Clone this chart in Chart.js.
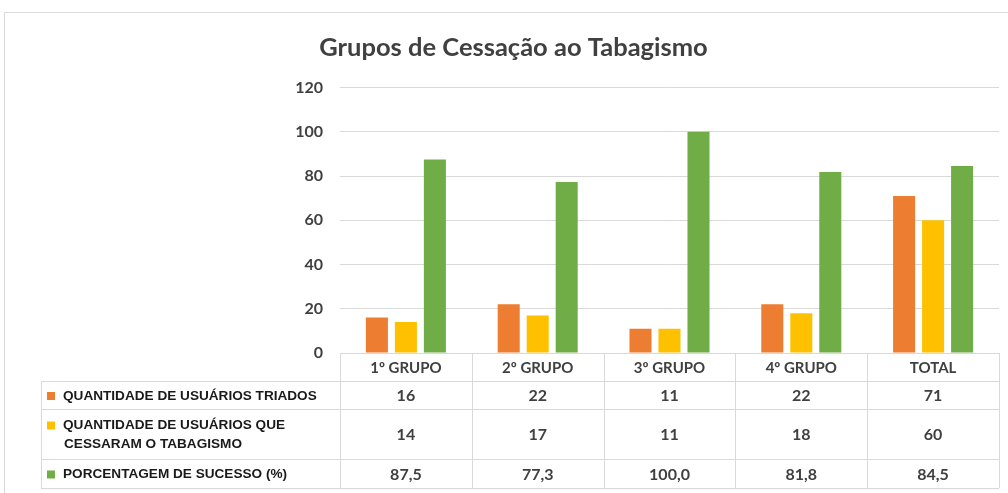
<!DOCTYPE html>
<html>
<head>
<meta charset="utf-8">
<script src="https://cdn.jsdelivr.net/npm/chart.js@4"></script>
<style>
  html, body { margin:0; padding:0; background:#fff; }
  #wrap { width:1008px; height:493px; }
</style>
</head>
<body>
<div id="wrap"><canvas id="grafico" width="1008" height="493"></canvas></div>
<script>
// dados do gráfico
const grupos = ['1º GRUPO', '2º GRUPO', '3º GRUPO', '4º GRUPO', 'TOTAL'];
const triados = [16, 22, 11, 22, 71];
const cessaram = [14, 17, 11, 18, 60];
const sucesso = [87.5, 77.3, 100.0, 81.8, 84.5];
const nomesSeries = [
  'QUANTIDADE DE USUÁRIOS TRIADOS',
  'QUANTIDADE DE USUÁRIOS QUE CESSARAM O TABAGISMO',
  'PORCENTAGEM DE SUCESSO (%)'
];
const casasDecimais = [0, 0, 1];
const cores = ['#ED7D31', '#FFC000', '#70AD47'];

const cinza = '#404040';
const linha = '#d9d9d9';
const fonteCalibri = 'Lato, Carlito, "Open Sans", sans-serif';

// tabela de dados embaixo do eixo x (estilo Excel)
const tabelaPlugin = {
  id: 'tabelaDados',
  afterDraw(chart) {
    const { ctx, chartArea } = chart;
    const xs = chart.scales.x;
    const meia = (chartArea.right - chartArea.left) / grupos.length / 2;
    const topo = chartArea.bottom;
    const linhas = [topo, topo + 28, topo + 56, topo + 106, topo + 135];
    const esq = 41;

    ctx.save();
    ctx.strokeStyle = linha;
    ctx.lineWidth = 1;

    // moldura externa
    ctx.strokeRect(4.5, 12.5, 1010, 500);

    // linhas horizontais
    linhas.forEach((y, i) => {
      ctx.beginPath();
      ctx.moveTo(i === 0 ? chartArea.left : esq, Math.round(y) + 0.5);
      ctx.lineTo(chartArea.right, Math.round(y) + 0.5);
      ctx.stroke();
    });
    // linhas verticais
    const bordas = grupos.map((g, i) => xs.getPixelForValue(i) - meia);
    bordas.push(chartArea.right);
    bordas.forEach(x => {
      ctx.beginPath();
      ctx.moveTo(Math.round(x) + 0.5, topo);
      ctx.lineTo(Math.round(x) + 0.5, linhas[4]);
      ctx.stroke();
    });
    ctx.beginPath();
    ctx.moveTo(esq + 0.5, linhas[1]);
    ctx.lineTo(esq + 0.5, linhas[4]);
    ctx.stroke();

    const series = [triados, cessaram, sucesso];
    series.forEach((dados, r) => {
      const y0 = linhas[r + 1], y1 = linhas[r + 2];
      const meio = (y0 + y1) / 2;

      // legenda: quadrado + nome (com quebra de linha)
      ctx.font = 'bold 13.6px "Liberation Sans", Arial, sans-serif';
      const palavras = nomesSeries[r].split(' ');
      const txtLinhas = [];
      let atual = '';
      palavras.forEach(p => {
        const teste = atual ? atual + ' ' + p : p;
        if (ctx.measureText(teste).width > 265 && atual) { txtLinhas.push(atual); atual = p; }
        else atual = teste;
      });
      txtLinhas.push(atual);
      const passo = 19;
      const yIni = meio - (txtLinhas.length - 1) * passo / 2 + 1;
      ctx.fillStyle = cores[r];
      ctx.fillRect(47, yIni - 4, 8, 8);
      ctx.fillStyle = '#1a1a1a';
      ctx.textAlign = 'left';
      ctx.textBaseline = 'middle';
      txtLinhas.forEach((t, k) => ctx.fillText(t, k === 0 ? 63 : 64, yIni + k * passo));

      // valores
      ctx.font = 'bold 16px ' + fonteCalibri;
      ctx.fillStyle = cinza;
      ctx.textAlign = 'center';
      dados.forEach((v, i) => {
        const txt = v.toFixed(casasDecimais[r]).replace('.', ',');
        ctx.fillText(txt, xs.getPixelForValue(i), meio + 1);
      });
    });
    ctx.restore();
  }
};

new Chart(document.getElementById('grafico'), {
  type: 'bar',
  data: {
    labels: grupos,
    datasets: [
      { label: nomesSeries[0], data: triados, backgroundColor: cores[0] },
      { label: nomesSeries[1], data: cessaram, backgroundColor: cores[1] },
      { label: nomesSeries[2], data: sucesso, backgroundColor: cores[2] }
    ]
  },
  options: {
    responsive: false,
    animation: false,
    datasets: { bar: { categoryPercentage: 0.66, barPercentage: 0.76 } },
    layout: { padding: { left: 28, right: 9, top: 0, bottom: 112 } },
    plugins: {
      legend: { display: false },
      tooltip: { enabled: false },
      title: {
        display: true,
        text: 'Grupos de Cessação ao Tabagismo',
        color: cinza,
        font: { family: fonteCalibri, size: 25.5, weight: 'bold' },
        padding: { top: 32, bottom: 25 }
      }
    },
    scales: {
      x: {
        grid: { display: false, drawTicks: false },
        border: { display: false },
        ticks: { color: cinza, padding: 6, font: { family: fonteCalibri, size: 15, weight: 'bold' } },
        afterFit: s => { s.height = 28; }
      },
      y: {
        min: 0, max: 120,
        grid: { color: linha, drawTicks: false },
        border: { display: false },
        ticks: { stepSize: 20, color: cinza, padding: 17, font: { family: fonteCalibri, size: 16, weight: 'bold' } },
        afterFit: s => { s.width = 312; }
      }
    }
  },
  plugins: [tabelaPlugin]
});
</script>
</body>
</html>
